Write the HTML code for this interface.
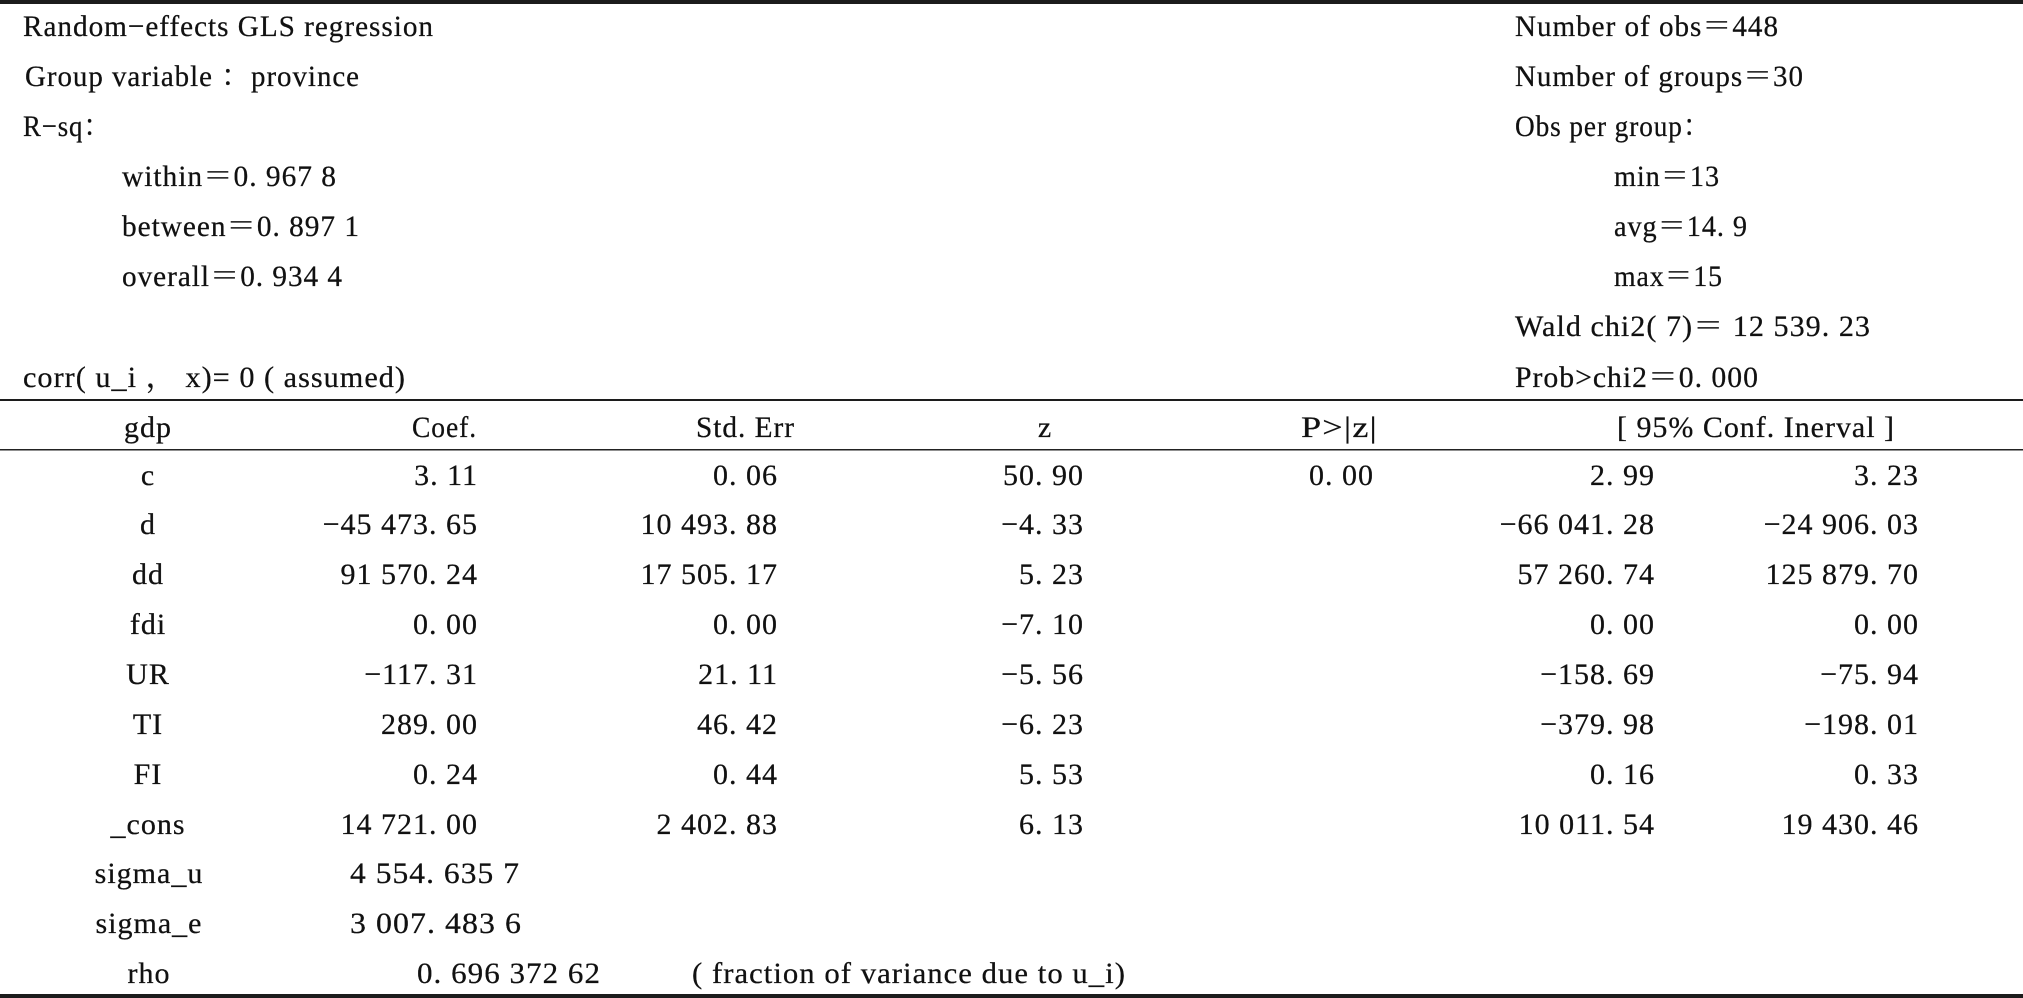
<!DOCTYPE html>
<html>
<head>
<meta charset="utf-8">
<style>
  html, body { margin: 0; padding: 0; background: #fff; }
  svg { display: block; }
  text { font-family: "Liberation Serif", "Noto Serif CJK SC", serif; font-size: 30px; fill: #111; stroke: #111; stroke-width: 0.25px; letter-spacing: 1px; }
  .e { text-anchor: end; }
  .m { text-anchor: middle; }
</style>
</head>
<body>
<svg width="2023" height="998" viewBox="0 0 2023 998" xmlns="http://www.w3.org/2000/svg">
  <rect x="0" y="0" width="2023" height="998" fill="#fff"/>
  <!-- rules -->
  <rect x="0" y="0" width="2023" height="4" fill="#1c1c1c"/>
  <rect x="0" y="399" width="2023" height="2" fill="#1c1c1c"/>
  <rect x="0" y="449" width="2023" height="1.5" fill="#222"/>
  <rect x="0" y="994" width="2023" height="4" fill="#1c1c1c"/>

  <!-- top-left block -->
  <text x="23" y="36" textLength="411" lengthAdjust="spacingAndGlyphs">Random−effects  GLS  regression</text>
  <text x="25" y="86" textLength="335" lengthAdjust="spacingAndGlyphs">Group  variable  ：province</text>
  <text x="23" y="136" textLength="88" lengthAdjust="spacingAndGlyphs">R−sq：</text>
  <text x="122" y="186" textLength="215" lengthAdjust="spacingAndGlyphs">within＝0. 967 8</text>
  <text x="122" y="236" textLength="238" lengthAdjust="spacingAndGlyphs">between＝0. 897 1</text>
  <text x="122" y="286" textLength="221" lengthAdjust="spacingAndGlyphs">overall＝0. 934 4</text>
  <text x="23" y="387" textLength="383" lengthAdjust="spacingAndGlyphs">corr( u_i ， x)= 0 ( assumed)</text>

  <!-- top-right block -->
  <text x="1515" y="36" textLength="264" lengthAdjust="spacingAndGlyphs">Number  of  obs＝448</text>
  <text x="1515" y="86" textLength="289" lengthAdjust="spacingAndGlyphs">Number  of  groups＝30</text>
  <text x="1515" y="136" textLength="196" lengthAdjust="spacingAndGlyphs">Obs  per  group：</text>
  <text x="1614" y="186" textLength="106" lengthAdjust="spacingAndGlyphs">min＝13</text>
  <text x="1614" y="236" textLength="134" lengthAdjust="spacingAndGlyphs">avg＝14. 9</text>
  <text x="1614" y="286" textLength="109" lengthAdjust="spacingAndGlyphs">max＝15</text>
  <text x="1515" y="336" textLength="356" lengthAdjust="spacingAndGlyphs">Wald  chi2( 7)＝ 12 539. 23</text>
  <text x="1515" y="387" textLength="244" lengthAdjust="spacingAndGlyphs">Prob&gt;chi2＝0. 000</text>

  <!-- header row -->
  <text class="m" x="148" y="437">gdp</text>
  <text x="412" y="437" textLength="65" lengthAdjust="spacingAndGlyphs">Coef.</text>
  <text x="696" y="437" textLength="99" lengthAdjust="spacingAndGlyphs">Std. Err</text>
  <text class="m" x="1045" y="437">z</text>
  <text x="1301" y="437" textLength="77" lengthAdjust="spacingAndGlyphs">P&gt;|z|</text>
  <text x="1617" y="437" textLength="278" lengthAdjust="spacingAndGlyphs">[ 95%  Conf.  Inerval ]</text>

  <!-- labels -->
  <text class="m" x="148" y="485">c</text>
  <text class="m" x="148" y="534">d</text>
  <text class="m" x="148" y="584">dd</text>
  <text class="m" x="148" y="634">fdi</text>
  <text class="m" x="148" y="684">UR</text>
  <text class="m" x="148" y="734">TI</text>
  <text class="m" x="148" y="784">FI</text>
  <text class="m" x="148" y="834">_cons</text>
  <text class="m" x="149" y="883">sigma_u</text>
  <text class="m" x="149" y="933">sigma_e</text>
  <text class="m" x="149" y="983">rho</text>

  <!-- Coef. column (right 477) -->
  <text class="e" x="478" y="485">3. 11</text>
  <text class="e" x="478" y="534">−45 473. 65</text>
  <text class="e" x="478" y="584">91 570. 24</text>
  <text class="e" x="478" y="634">0. 00</text>
  <text class="e" x="478" y="684">−117. 31</text>
  <text class="e" x="478" y="734">289. 00</text>
  <text class="e" x="478" y="784">0. 24</text>
  <text class="e" x="478" y="834">14 721. 00</text>
  <text x="350" y="883" textLength="170" lengthAdjust="spacingAndGlyphs">4 554. 635 7</text>
  <text x="350" y="933" textLength="172" lengthAdjust="spacingAndGlyphs">3 007. 483 6</text>
  <text x="417" y="983" textLength="184" lengthAdjust="spacingAndGlyphs">0. 696 372 62</text>
  <text x="692" y="983" textLength="434" lengthAdjust="spacingAndGlyphs">( fraction  of  variance  due  to  u_i)</text>

  <!-- Std. Err column (right 777) -->
  <text class="e" x="778" y="485">0. 06</text>
  <text class="e" x="778" y="534">10 493. 88</text>
  <text class="e" x="778" y="584">17 505. 17</text>
  <text class="e" x="778" y="634">0. 00</text>
  <text class="e" x="778" y="684">21. 11</text>
  <text class="e" x="778" y="734">46. 42</text>
  <text class="e" x="778" y="784">0. 44</text>
  <text class="e" x="778" y="834">2 402. 83</text>

  <!-- z column (right 1083) -->
  <text class="e" x="1084" y="485">50. 90</text>
  <text class="e" x="1084" y="534">−4. 33</text>
  <text class="e" x="1084" y="584">5. 23</text>
  <text class="e" x="1084" y="634">−7. 10</text>
  <text class="e" x="1084" y="684">−5. 56</text>
  <text class="e" x="1084" y="734">−6. 23</text>
  <text class="e" x="1084" y="784">5. 53</text>
  <text class="e" x="1084" y="834">6. 13</text>

  <!-- P>|z| column -->
  <text class="e" x="1374" y="485">0. 00</text>

  <!-- Conf low (right 1654) -->
  <text class="e" x="1655" y="485">2. 99</text>
  <text class="e" x="1655" y="534">−66 041. 28</text>
  <text class="e" x="1655" y="584">57 260. 74</text>
  <text class="e" x="1655" y="634">0. 00</text>
  <text class="e" x="1655" y="684">−158. 69</text>
  <text class="e" x="1655" y="734">−379. 98</text>
  <text class="e" x="1655" y="784">0. 16</text>
  <text class="e" x="1655" y="834">10 011. 54</text>

  <!-- Conf high (right 1918) -->
  <text class="e" x="1919" y="485">3. 23</text>
  <text class="e" x="1919" y="534">−24 906. 03</text>
  <text class="e" x="1919" y="584">125 879. 70</text>
  <text class="e" x="1919" y="634">0. 00</text>
  <text class="e" x="1919" y="684">−75. 94</text>
  <text class="e" x="1919" y="734">−198. 01</text>
  <text class="e" x="1919" y="784">0. 33</text>
  <text class="e" x="1919" y="834">19 430. 46</text>
</svg>
</body>
</html>
